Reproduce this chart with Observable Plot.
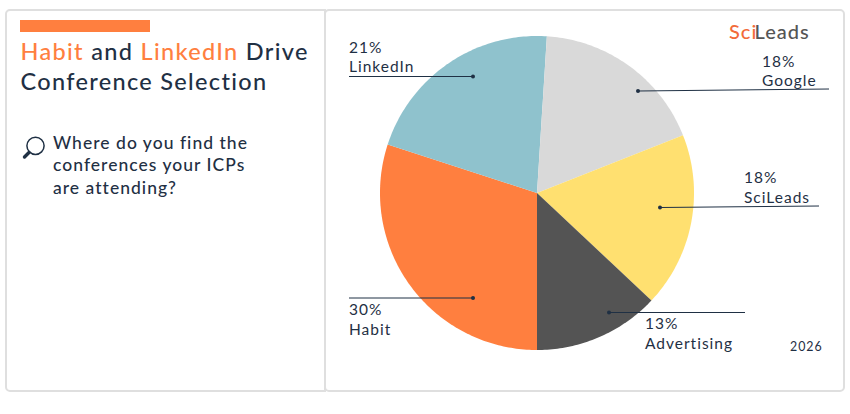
<!DOCTYPE html>
<html>
<head>
<meta charset="utf-8">
<script src="https://cdn.jsdelivr.net/npm/d3@7"></script>
<script src="https://cdn.jsdelivr.net/npm/@observablehq/plot@0.6"></script>
<style>
  html,body{margin:0;padding:0;background:#fff;width:850px;height:414px;overflow:hidden;}
  body{font-family:Lato,sans-serif;color:#1f3044;position:relative;}
  .panel{position:absolute;box-sizing:border-box;border:2px solid #dfdfdf;background:#fff;}
  .bar{position:absolute;left:20px;top:20px;width:130px;height:12px;background:#ff7f3f;}
  .title{position:absolute;left:20.5px;top:36px;font-size:23.5px;line-height:30px;letter-spacing:1.32px;font-weight:500;white-space:nowrap;}
  .title b{font-weight:500;color:#ff7f3f;}
  .question{position:absolute;left:53px;top:132px;font-size:17.5px;line-height:22.4px;letter-spacing:1.02px;font-weight:500;white-space:nowrap;}
  .icon{position:absolute;left:20px;top:132px;}
  #chart{position:absolute;left:0;top:0;}
  #chart svg{background:transparent;}
  #chart text{letter-spacing:1px;}
</style>
</head>
<body>
<div class="panel" style="left:5px;top:9px;width:321px;height:383px;border-radius:5px 0 0 5px"></div>
<div class="panel" style="left:324px;top:9px;width:521px;height:383px;border-radius:5px"></div>
<div class="bar"></div>
<div class="title"><b>Habit</b> and <b>LinkedIn</b> Drive<br>Conference Selection</div>
<svg class="icon" width="30" height="30" viewBox="0 0 30 30" aria-hidden="true">
  <circle cx="15.5" cy="13.8" r="8.6" fill="#fff" stroke="#1f3044" stroke-width="1.5"/>
  <line x1="9" y1="20.5" x2="4.5" y2="25" stroke="#1f3044" stroke-width="3.4" stroke-linecap="round"/>
</svg>
<div class="question">Where do you find the<br>conferences your ICPs<br>are attending?</div>
<div id="chart"></div>
<script>
// Data, clockwise from the bottom of the pie
const names  = ["Habit", "LinkedIn", "Google", "SciLeads", "Advertising"];
const values = [30, 21, 18, 18, 13];
const colors = ["#ff7f3f", "#8fc2cd", "#d9d9d9", "#ffe070", "#545454"];
const year   = "2026";

// Layout, kept apart from the data
const cx = 536.5, cy = 192.5, radius = 157;
const dark = "#1f3044";
const leaderFrom = [[472.5, 297.5], [472.5, 76], [637.5, 90.5], [659.5, 207], [608.5, 312]];
const leaderTo   = [[348.5, 297.5], [348.5, 76], [828.5, 88.5], [818.5, 205.5], [744.5, 312]];
const pctAt   = [[349, 315], [349, 53], [762, 67], [744, 183], [645, 329]];
const labelAt = [[349, 335], [349, 72], [762, 86], [744, 203], [645, 349]];

const arcs = d3.pie().sort(null).startAngle(Math.PI).endAngle(3 * Math.PI)(values);
const outline = arcs.flatMap((a, i) => {
  const n = Math.ceil((a.endAngle - a.startAngle) * 60);
  return [
    {name: names[i], x: cx, y: cy},
    ...d3.range(n + 1).map(k => {
      const t = a.startAngle + (a.endAngle - a.startAngle) * k / n;
      return {name: names[i], x: cx + radius * Math.sin(t), y: cy - radius * Math.cos(t)};
    })
  ];
});
const rows = names.map((name, i) => ({
  name, pct: values[i] + "%",
  x1: leaderFrom[i][0], y1: leaderFrom[i][1], x2: leaderTo[i][0], y2: leaderTo[i][1],
  px: pctAt[i][0] - 0.5, py: pctAt[i][1] - 0.5, lx: labelAt[i][0] - 0.5, ly: labelAt[i][1] - 0.5
}));
const textOpts = {textAnchor: "start", lineAnchor: "bottom", fill: dark, fontSize: 15.5};

const plot = Plot.plot({
  width: 850, height: 414,
  marginTop: 0, marginRight: 0, marginBottom: 0, marginLeft: 0,
  x: {domain: [0, 850], range: [0, 850], axis: null},
  y: {domain: [0, 414], range: [0, 414], axis: null},
  color: {domain: names, range: colors},
  style: {background: "transparent", fontFamily: "Lato, sans-serif"},
  marks: [
    Plot.line(outline, {x: "x", y: "y", z: "name", fill: "name", stroke: null, curve: "linear"}),
    Plot.link(rows, {x1: "x1", y1: "y1", x2: "x2", y2: "y2", stroke: dark, strokeWidth: 1}),
    Plot.dot(rows, {x: "x1", y: "y1", r: 2, fill: dark, stroke: null}),
    Plot.text(rows, {x: "px", y: "py", text: "pct", ...textOpts}),
    Plot.text(rows, {x: "lx", y: "ly", text: "name", ...textOpts}),
    Plot.text([year], {x: () => 789.5, y: () => 350.5, text: d => d, ...textOpts, fontSize: 12.4}),
    Plot.text(["Sci"], {x: () => 728.5, y: () => 38.5, text: d => d, ...textOpts, fontSize: 20, fontWeight: 500, fill: "#f26b3a"}),
    Plot.text(["Leads"], {x: () => 754, y: () => 38.5, text: d => d, ...textOpts, fontSize: 20, fontWeight: 500, fill: "#555555"})
  ]
});
document.getElementById("chart").appendChild(plot);
</script>
</body>
</html>
